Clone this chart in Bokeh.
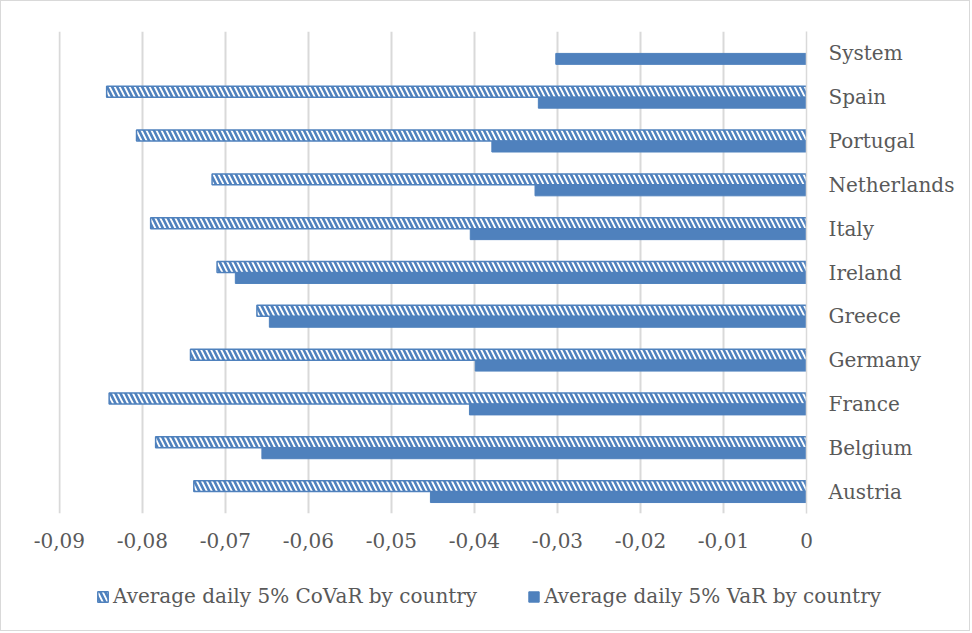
import math

from bokeh.embed import file_html
from bokeh.models import ColumnDataSource, FixedTicker, LinearAxis, Legend, LegendItem, Range1d
from bokeh.plotting import figure
from bokeh.resources import INLINE

# Categories listed bottom to top
countries = ["Austria", "Belgium", "France", "Germany", "Greece", "Ireland",
             "Italy", "Netherlands", "Portugal", "Spain", "System"]
covar = [-0.0738, -0.0784, -0.0840, -0.0742, -0.0662, -0.0710,
         -0.0790, -0.0716, -0.0807, -0.0843, None]
var = [-0.0453, -0.0656, -0.0406, -0.0399, -0.0647, -0.0688,
       -0.0405, -0.0327, -0.0379, -0.0323, -0.0302]
x_ticks = [-0.09, -0.08, -0.07, -0.06, -0.05, -0.04, -0.03, -0.02, -0.01, 0.0]
x_tick_labels = ["-0,09", "-0,08", "-0,07", "-0,06", "-0,05", "-0,04",
                 "-0,03", "-0,02", "-0,01", "0"]
series_names = ["Average daily 5% CoVaR by country", "Average daily 5% VaR by country"]

BLUE = "#4f81bd"
GRID = "#d9d9d9"
TEXT = "#595959"
FONT = "DejaVu Serif"
BORDER = "1px solid #d9d9d9"

covar_style = dict(fill_color="white", line_color=BLUE, line_width=1.5,
                   hatch_pattern="\\", hatch_color=BLUE, hatch_scale=10, hatch_weight=2.6)
var_style = dict(fill_color=BLUE, line_color=BLUE)

pos = list(range(len(countries)))
src_covar = ColumnDataSource(dict(
    y=[p + 0.125 for p in pos],
    left=[math.nan if v is None else v for v in covar],
))
src_var = ColumnDataSource(dict(y=[p - 0.125 for p in pos], left=var))

# ---- main chart ----
p = figure(width=970, height=560, output_backend="svg", toolbar_location=None,
           x_range=Range1d(-0.0901, 0.0), y_range=Range1d(-0.5, len(countries) - 0.5),
           x_axis_location=None, y_axis_location=None,
           min_border_left=57, min_border_right=165, min_border_top=30,
           min_border_bottom=48)
p.styles = {"border-top": BORDER, "border-left": BORDER, "border-right": BORDER}
p.outline_line_color = None

p.hbar(y="y", left="left", right=0, height=0.25, source=src_covar, **covar_style)
p.hbar(y="y", left="left", right=0, height=0.25, source=src_var, **var_style)

# value axis at the bottom
xaxis = LinearAxis(ticker=FixedTicker(ticks=x_ticks),
                   major_label_overrides={t: l for t, l in zip(x_ticks, x_tick_labels)})
xaxis.axis_line_color = None
xaxis.major_tick_line_color = None
xaxis.minor_tick_line_color = None
xaxis.major_label_standoff = 13
xaxis.major_label_text_font = FONT
xaxis.major_label_text_font_size = "20px"
xaxis.major_label_text_color = TEXT
p.add_layout(xaxis, "below")

# category axis on the right, at x = 0
yaxis = LinearAxis(ticker=FixedTicker(ticks=pos),
                   major_label_overrides={i: c for i, c in enumerate(countries)})
yaxis.axis_line_color = GRID
yaxis.axis_line_width = 1.5
yaxis.major_tick_line_color = None
yaxis.minor_tick_line_color = None
yaxis.major_label_standoff = 16
yaxis.major_label_text_font = FONT
yaxis.major_label_text_font_size = "20px"
yaxis.major_label_text_color = TEXT
p.add_layout(yaxis, "right")

p.xgrid.ticker = FixedTicker(ticks=x_ticks)
p.xgrid.grid_line_color = GRID
p.xgrid.grid_line_width = 2
p.ygrid.grid_line_color = None

# ---- legend strip (same series styles; the bars lie outside its ranges) ----
lg = figure(width=970, height=71, output_backend="svg", toolbar_location=None,
            x_range=Range1d(100, 101), y_range=Range1d(100, 101),
            x_axis_location=None, y_axis_location=None,
            min_border=0)
lg.styles = {"border-bottom": BORDER, "border-left": BORDER, "border-right": BORDER}
lg.outline_line_color = None
lg.grid.visible = False
r_covar = lg.hbar(y="y", left="left", right=0, height=0.25, source=src_covar, **covar_style)
r_var = lg.hbar(y="y", left="left", right=0, height=0.25, source=src_var, **var_style)

legend = Legend(items=[
    LegendItem(label=series_names[0], renderers=[r_covar]),
    LegendItem(label=series_names[1], renderers=[r_var]),
], orientation="horizontal", location=(95, 23))
legend.label_text_font = FONT
legend.label_text_font_size = "20px"
legend.label_text_color = TEXT
legend.glyph_width = 13
legend.glyph_height = 13
legend.label_standoff = 4
legend.spacing = 50
legend.padding = 4
legend.border_line_color = None
legend.background_fill_alpha = 0
lg.add_layout(legend, "center")

open("out.html", "w").write(file_html([p, lg], INLINE))
